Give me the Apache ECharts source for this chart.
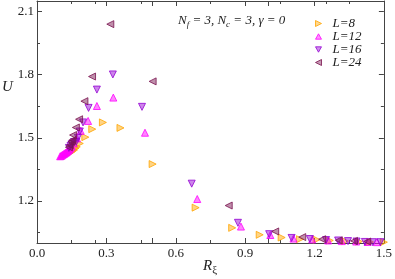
<!DOCTYPE html>
<html><head><meta charset="utf-8">
<script src="https://cdn.jsdelivr.net/npm/echarts@6/dist/echarts.min.js"></script>
<style>html,body{margin:0;padding:0;background:#fff}#c{width:395px;height:279px}</style>
</head><body><div id="c"></div>
<script>
// Data: [R_xi, U]
const seriesNames = ['L=8', 'L=12', 'L=16', 'L=24'];
const L8 = [[0.141,1.427],[0.148,1.432],[0.154,1.437],[0.160,1.442],[0.166,1.450],[0.172,1.457],[0.185,1.473],[0.209,1.503],[0.239,1.541],[0.285,1.573],[0.361,1.547],[0.500,1.375],[0.686,1.168],[0.844,1.072],[0.963,1.039],[1.058,1.026],[1.137,1.018],[1.209,1.016],[1.266,1.012],[1.332,1.009],[1.392,1.007],[1.440,1.005],[1.500,1.004]];
const L12 = [[0.100,1.412],[0.104,1.414],[0.108,1.417],[0.112,1.420],[0.116,1.423],[0.120,1.426],[0.124,1.429],[0.128,1.432],[0.132,1.436],[0.136,1.440],[0.140,1.444],[0.145,1.450],[0.151,1.458],[0.159,1.473],[0.173,1.497],[0.189,1.533],[0.221,1.580],[0.259,1.651],[0.330,1.691],[0.467,1.524],[0.693,1.209],[0.882,1.078],[1.009,1.038],[1.109,1.021],[1.190,1.017],[1.259,1.012],[1.318,1.009],[1.380,1.007],[1.430,1.005],[1.470,1.004]];
const L16 = [[0.138,1.452],[0.145,1.462],[0.151,1.470],[0.160,1.480],[0.170,1.481],[0.177,1.500],[0.185,1.530],[0.199,1.573],[0.223,1.642],[0.259,1.729],[0.328,1.801],[0.454,1.647],[0.669,1.282],[0.869,1.096],[1.004,1.042],[1.101,1.024],[1.180,1.019],[1.250,1.014],[1.302,1.012],[1.345,1.009],[1.382,1.007],[1.418,1.005],[1.452,1.004],[1.485,1.004]];
const L24 = [[0.138,1.455],[0.142,1.465],[0.149,1.481],[0.153,1.489],[0.156,1.513],[0.168,1.549],[0.182,1.588],[0.205,1.674],[0.238,1.791],[0.317,2.040],[0.500,1.768],[0.829,1.178],[1.030,1.055],[1.147,1.028],[1.233,1.018],[1.305,1.013],[1.371,1.010],[1.428,1.007]];
const yLabelValues = [1.2, 1.5, 1.8, 2.1];
const yMinorValues = [1.05, 1.35, 1.65, 1.95];

const colors = ['#ffa500', '#ff00ff', '#9400d3', '#7a1450'];
const rotations = [-90, 0, 180, 90];
const legendIcons = ['path://M0,0L10,5L0,10Z', 'path://M5,0L10,9L0,9Z', 'path://M0,0L10,0L5,9Z', 'path://M10,0L0,5L10,10Z'];
const serif = '"Liberation Serif", "DejaVu Serif", serif';
const axisCol = '#444';

function xAx(pos, interval, showLabel, showLine) {
  return {
    type: 'value', position: pos, min: 0, max: 1.5, interval: interval,
    axisLine: {show: showLine, lineStyle: {color: axisCol, width: 1}},
    axisTick: {show: true, inside: true, length: 5, lineStyle: {color: axisCol}},
    minorTick: {show: true, splitNumber: 2, length: 3, lineStyle: {color: axisCol}},
    splitLine: {show: false}, minorSplitLine: {show: false},
    axisLabel: {show: showLabel, margin: 4, fontFamily: serif, fontSize: 13, color: '#222',
      formatter: v => v.toFixed(1)}
  };
}
function yAx(pos, vals, len, showLabel, showLine) {
  return {
    type: 'value', position: pos, min: 1.0, max: 2.15,
    axisLine: {show: showLine, onZero: false, lineStyle: {color: axisCol, width: 1}},
    axisTick: {show: true, inside: true, length: len, customValues: vals, lineStyle: {color: axisCol}},
    splitLine: {show: false},
    axisLabel: {show: showLabel, customValues: vals, margin: 3, fontFamily: serif, fontSize: 13, color: '#222',
      formatter: v => v.toFixed(1)}
  };
}

const data = [L8, L12, L16, L24];
const chart = echarts.init(document.getElementById('c'), null, {renderer: 'canvas'});
chart.setOption({
  animation: false,
  grid: {left: 37, right: 9, top: 1, bottom: 36, containLabel: false},
  title: {
    text: '{i|N}{s|f}{i| = 3, N}{s|c}{i| = 3, γ = 0}',
    left: 173, top: 8,
    textStyle: {fontWeight: 'normal', rich: {
      i: {fontFamily: serif, fontStyle: 'italic', fontWeight: 'normal', fontSize: 13, color: '#222', lineHeight: 16, verticalAlign: 'middle'},
      s: {fontFamily: serif, fontStyle: 'italic', fontWeight: 'normal', fontSize: 9, color: '#222', lineHeight: 8, verticalAlign: 'bottom'}
    }}
  },
  legend: {
    orient: 'vertical', left: 310, top: 12, itemWidth: 6, itemHeight: 6, itemGap: 0,
    data: seriesNames.map((n, i) => ({name: n, icon: legendIcons[i],
      itemStyle: {color: echarts.color.modifyAlpha(colors[i], 0.55), borderColor: colors[i], borderWidth: 1}})),
    textStyle: {fontFamily: serif, fontStyle: 'italic', fontSize: 13, color: '#222', lineHeight: 11.3, padding: [0,0,0,6]}
  },
  xAxis: [xAx('bottom', 0.3, true, true), xAx('bottom', 0.5, false, false), xAx('top', 0.3, false, true), xAx('top', 0.5, false, false)],
  yAxis: [yAx('left', yLabelValues, 5, true, true), yAx('left', yMinorValues, 3, false, false), yAx('right', yLabelValues, 5, false, true), yAx('right', yMinorValues, 3, false, false)],
  graphic: [
    {type: 'text', left: 2, top: 80, style: {text: 'U', fontFamily: serif, fontStyle: 'italic', fontSize: 15, fill: '#222'}},
    {type: 'text', left: 203, top: 259, style: {text: '{r|R}{s|ξ}', rich: {
      r: {fontFamily: serif, fontStyle: 'italic', fontSize: 15, fill: '#222', lineHeight: 18, verticalAlign: 'middle'},
      s: {fontFamily: serif, fontSize: 11, fill: '#222', lineHeight: 10, verticalAlign: 'bottom'}
    }}}
  ],
  series: data.map((d, i) => ({
    name: seriesNames[i], type: 'scatter', data: d, symbol: 'triangle', symbolSize: 7,
    symbolRotate: rotations[i], xAxisIndex: 0, yAxisIndex: 0,
    itemStyle: {color: echarts.color.modifyAlpha(colors[i], 0.6), borderColor: colors[i], borderWidth: 1}
  }))
});
</script></body></html>
